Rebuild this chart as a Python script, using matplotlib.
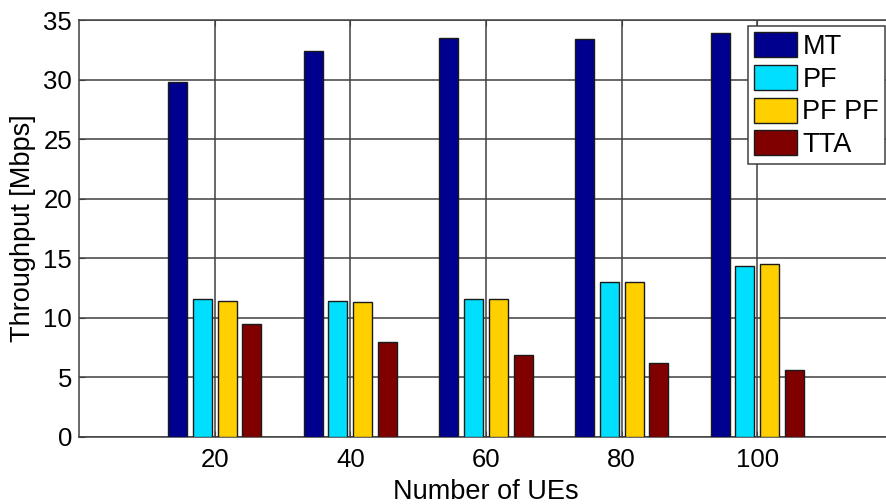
import numpy as np
import matplotlib.pyplot as plt

plt.rcParams['font.family'] = ['Liberation Sans', 'DejaVu Sans']

# Throughput per scheduler, one entry per number of UEs
n_ues = [20, 40, 60, 80, 100]
mt = [29.8, 32.4, 33.5, 33.4, 33.9]
pf = [11.6, 11.4, 11.6, 13.0, 14.35]
pf_pf = [11.4, 11.3, 11.6, 13.0, 14.55]
tta = [9.5, 8.0, 6.9, 6.2, 5.6]

labels = ['MT', 'PF', 'PF PF', 'TTA']
colors = ['#00008f', '#00dfff', '#ffcf00', '#800000']
series = [mt, pf, pf_pf, tta]

fig = plt.figure(figsize=(8.86, 5.04), dpi=100)
# axes run a little past the right border, as in the exported MATLAB figure
ax = fig.add_axes([79 / 886, 67 / 504, (893 - 79) / 886, 417 / 504])

x = np.array(n_ues, dtype=float)
step = 3.65
width = 2.8
for i, (vals, lab, col) in enumerate(zip(series, labels, colors)):
    ax.bar(x + (i - 1.5) * step, vals, width, color=col, edgecolor='#1a1a1a',
           linewidth=1.0, label=lab, zorder=3)

ax.set_xlim(0, 120)
ax.set_ylim(0, 35)
ax.set_xticks(n_ues)
ax.set_yticks(np.arange(0, 36, 5))
ax.grid(True, color='#404040', linewidth=1.1, linestyle='-', zorder=0)
ax.set_axisbelow(True)
for side in ['left', 'bottom', 'top', 'right']:
    ax.spines[side].set_color('#404040')
    ax.spines[side].set_linewidth(1.1)
ax.tick_params(axis='both', direction='in', length=4, color='#404040',
               labelsize=18.5, pad=5, top=True)
ax.tick_params(axis='x', pad=8)

ax.set_xlabel('Number of UEs', fontsize=19.5, labelpad=5)
ax.set_ylabel('Throughput [Mbps]', fontsize=19.5, labelpad=5)

leg = ax.legend(loc='upper right', bbox_to_anchor=(885 / 886, 1 - 26.5 / 504),
                bbox_transform=fig.transFigure, fontsize=19.5, frameon=True,
                fancybox=False, framealpha=1, edgecolor='#404040',
                handlelength=1.6, handleheight=1.04, handletextpad=0.2,
                labelspacing=0.18, borderpad=0.22, borderaxespad=0)
leg.get_frame().set_linewidth(1.1)

fig.savefig('out.png', dpi=100)
